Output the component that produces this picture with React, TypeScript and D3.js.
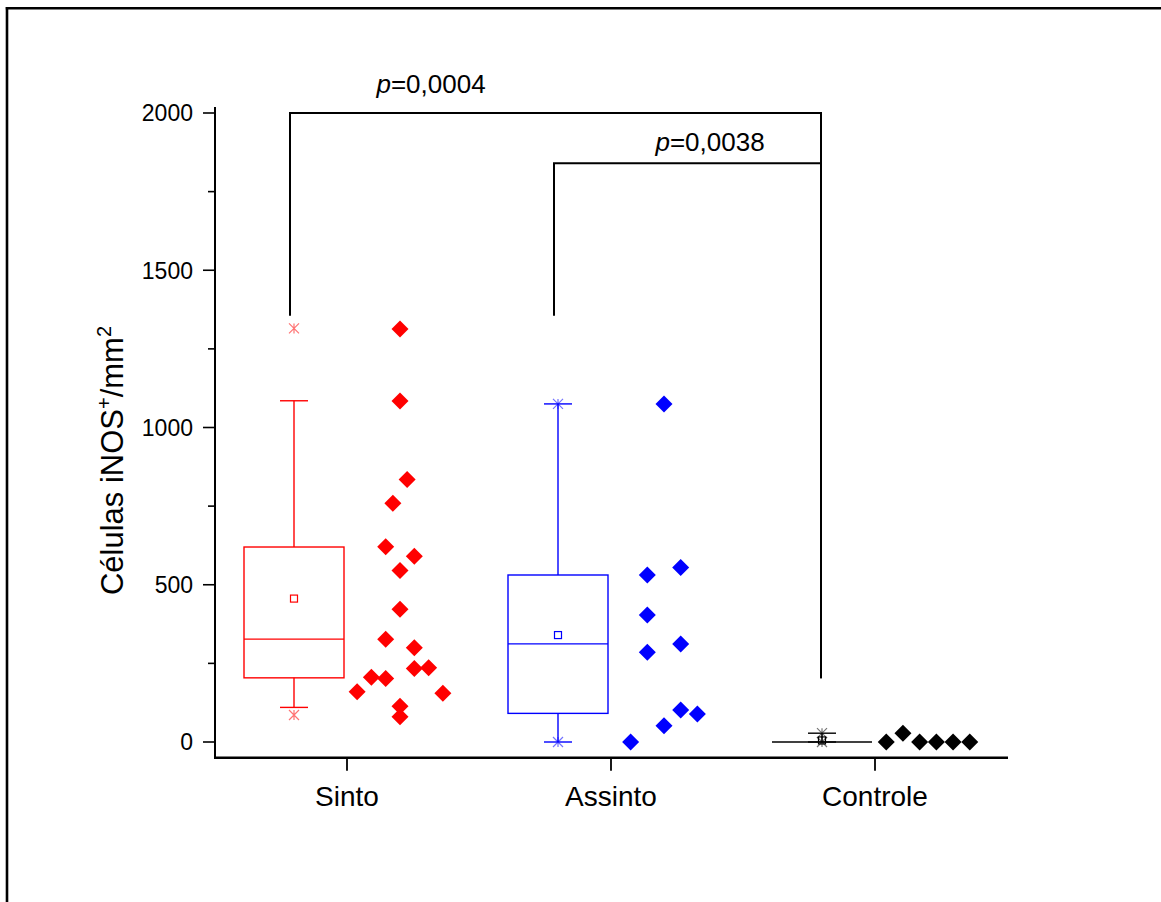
import React from "react";
import * as d3 from "d3";

// ---- data ----
const categories = ["Sinto", "Assinto", "Controle"];
const groupColors = ["#ff0000", "#0000ff", "#000000"];

const sintoValues = [1313, 1084, 835, 759, 621, 591, 545, 422, 327, 300, 234, 236, 206, 202, 160, 155, 114, 80];
const sintoJitter = [0, 0, 0.5, -0.5, -1, 1, 0, 0, -1, 1, 1, 2, -2, -1, -3, 3, 0, 0];
const assintoValues = [1075, 555, 531, 404, 312, 285, 102, 89, 52, 0];
const assintoJitter = [0, 1, -1, -1, 1, -1, 1, 2, 0, -2];
const controleValues = [0, 28, 0, 0, 0, 0];
const controleJitter = [-2.5, -1.5, -0.5, 0.5, 1.5, 2.5];

const boxQ1 = [204, 91, 0];
const boxMedian = [327, 312, 0];
const boxQ3 = [620, 531, 0];
const whiskerLow = [110, 0, 0];
const whiskerHigh = [1085, 1075, 28];
const boxMean = [456, 340, 5];
const boxMin = [86, 0, 0];
const boxMax = [1315, 1075, 28];

const yTicks = [0, 500, 1000, 1500, 2000];
const yMinorTicks = [250, 750, 1250, 1750];

const bracketFrom = ["Sinto", "Assinto"];
const bracketTo = ["Controle", "Controle"];
const bracketLevel = [2000, 1840];
const bracketLeftBottom = [1355, 1355];
const bracketRightBottom = [203, 203];
const bracketP = ["0,0004", "0,0038"];

const groups = [
  { values: sintoValues, jitter: sintoJitter, slot: 14.3 },
  { values: assintoValues, jitter: assintoJitter, slot: 16.7 },
  { values: controleValues, jitter: controleJitter, slot: 16.7 },
];

// ---- layout ----
const W = 1161;
const H = 902;
const FONT = "Arial, 'Liberation Sans', Helvetica, sans-serif";

export default function App() {
  const x = d3.scalePoint<string>().domain(categories).range([215, 1007]).padding(0.5);
  const y = d3.scaleLinear().domain([0, 2000]).range([742, 113]);
  const axisY = y(-50);
  const boxOff = -53;
  const ptsOff = 53;
  const boxHalf = 50;
  const capHalf = 14;

  const diamond = (r: number) => `M0,${-r}L${r},0L0,${r}L${-r},0Z`;
  const cross = (r: number) => `M${-r},${-r}L${r},${r}M${-r},${r}L${r},${-r}M0,${-r}L0,${r}`;

  return (
    <svg
      width={W}
      height={H}
      style={{ position: "absolute", left: 0, top: 0, background: "#fff" }}
      fontFamily={FONT}
    >
      <rect x={0} y={0} width={W} height={H} fill="#fff" />
      {/* frame */}
      <line x1={5.8} y1={8.3} x2={W} y2={8.3} stroke="#000" strokeWidth={2.6} />
      <line x1={7} y1={7} x2={7} y2={H} stroke="#000" strokeWidth={2.6} />

      {/* y axis */}
      <line x1={215} y1={y(2000) - 6} x2={215} y2={axisY} stroke="#000" strokeWidth={2} />
      {yTicks.map((t) => (
        <g key={t}>
          <line x1={203} x2={215} y1={y(t)} y2={y(t)} stroke="#000" strokeWidth={1.6} />
          <text x={193} y={y(t)} dy="0.36em" textAnchor="end" fontSize={23}>
            {t}
          </text>
        </g>
      ))}
      {yMinorTicks.map((t) => (
        <line key={t} x1={208} x2={215} y1={y(t)} y2={y(t)} stroke="#000" strokeWidth={1.6} />
      ))}
      <text
        transform={`translate(123,${y(895)}) rotate(-90)`}
        textAnchor="middle"
        fontSize={31}
      >
        Células iNOS
        <tspan fontSize={20} dy={-12}>+</tspan>
        <tspan dy={12}>/mm</tspan>
        <tspan fontSize={20} dy={-12}>2</tspan>
      </text>

      {/* x axis */}
      <line x1={214} x2={1008} y1={axisY} y2={axisY} stroke="#000" strokeWidth={2.5} />
      {categories.map((c) => (
        <g key={c}>
          <line x1={x(c)!} x2={x(c)!} y1={axisY} y2={axisY + 13} stroke="#000" strokeWidth={1.8} />
          <text x={x(c)!} y={806} textAnchor="middle" fontSize={28}>
            {c}
          </text>
        </g>
      ))}

      {/* boxes */}
      {categories.map((c, i) => {
        const cx = x(c)! + boxOff;
        const col = groupColors[i];
        return (
          <g key={c} stroke={col} fill="none" strokeWidth={1.4}>
            <line x1={cx} x2={cx} y1={y(boxQ3[i])} y2={y(whiskerHigh[i])} />
            <line x1={cx} x2={cx} y1={y(boxQ1[i])} y2={y(whiskerLow[i])} />
            <line x1={cx - capHalf} x2={cx + capHalf} y1={y(whiskerHigh[i])} y2={y(whiskerHigh[i])} />
            <line x1={cx - capHalf} x2={cx + capHalf} y1={y(whiskerLow[i])} y2={y(whiskerLow[i])} />
            <rect
              x={cx - boxHalf}
              y={y(boxQ3[i])}
              width={boxHalf * 2}
              height={Math.max(0, y(boxQ1[i]) - y(boxQ3[i]))}
            />
            <line x1={cx - boxHalf} x2={cx + boxHalf} y1={y(boxMedian[i])} y2={y(boxMedian[i])} />
            <rect x={cx - 3.5} y={y(boxMean[i]) - 3.5} width={7} height={7} strokeWidth={1.2} />
            <path d={cross(5)} transform={`translate(${cx},${y(boxMax[i])})`} strokeOpacity={0.55} strokeWidth={1.2} />
            <path d={cross(5)} transform={`translate(${cx},${y(boxMin[i])})`} strokeOpacity={0.55} strokeWidth={1.2} />
          </g>
        );
      })}

      {/* points */}
      {groups.map((g, i) => {
        const cx = x(categories[i])! + ptsOff;
        return (
          <g key={i} fill={groupColors[i]}>
            {g.values.map((v, j) => (
              <path key={j} d={diamond(8.5)} transform={`translate(${cx + g.jitter[j] * g.slot},${y(v)})`} />
            ))}
          </g>
        );
      })}

      {/* significance brackets */}
      {bracketFrom.map((f, k) => {
        const x1 = x(f)! + boxOff - 4;
        const x2 = x(bracketTo[k])! + boxOff - 1;
        const yl = y(bracketLevel[k]);
        const tx = k === 0 ? x(f)! + 84 : x(f)! + 99;
        const ty = k === 0 ? yl - 20 : yl - 12;
        return (
          <g key={k}>
            <path
              d={`M${x1},${y(bracketLeftBottom[k])}V${yl}H${x2}V${y(bracketRightBottom[k])}`}
              fill="none"
              stroke="#000"
              strokeWidth={2}
            />
            <text x={tx} y={ty} textAnchor="middle" fontSize={26}>
              <tspan fontStyle="italic">p</tspan>={bracketP[k]}
            </text>
          </g>
        );
      })}
    </svg>
  );
}
